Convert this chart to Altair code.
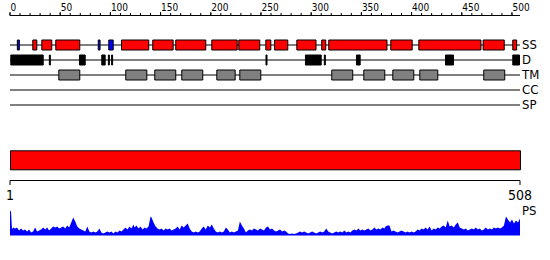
import altair as alt
import pandas as pd

FONT = "Liberation Sans Narrow, DejaVu Sans Condensed, Liberation Sans, sans-serif"

tracks = ["SS", "D", "TM", "CC", "SP"]
seq_len = 508
axis_ticks = list(range(0, 501, 10))

# Secondary structure (H = helix, red; E = strand, blue)
ss_start = [7.3, 22.7, 31.7, 45.6, 87.9, 98.4, 111.1, 142.2, 165.1, 201.0, 227.9, 254.8,
            263.5, 285.7, 310.5, 317.5, 379.3, 407.2, 471.3, 500.8]
ss_end = [9.3, 26.7, 41.6, 69.5, 89.7, 102.8, 138.2, 162.5, 195.0, 226.3, 248.8, 259.8,
          276.7, 304.8, 314.5, 375.5, 400.6, 469.1, 492.3, 504.7]
ss_kind = ["E", "H", "H", "H", "E", "E", "H", "H", "H", "H", "H", "H",
           "H", "H", "H", "H", "H", "H", "H", "H"]

# Disorder
d_start = [0.8, 39.2, 69.2, 91.4, 98.0, 101.2, 255.0, 294.3, 313.1, 345.1, 433.8, 500.8]
d_end = [33.1, 40.2, 74.9, 94.8, 99.0, 102.2, 256.0, 310.0, 314.1, 348.8, 441.7, 507.5]

# Transmembrane
tm_start = [48.6, 115.3, 144.2, 171.1, 206.0, 228.9, 320.5, 352.4, 381.3, 408.2, 471.9]
tm_end = [69.5, 136.3, 165.1, 192.0, 224.3, 249.8, 341.4, 373.3, 402.2, 426.1, 492.8]

# Profile (PS)
ps_pos = [0, 1, 2, 3, 5, 7, 9, 11, 13, 15, 17, 19, 21, 23, 25, 27, 29, 31, 33, 35, 37, 39,
          41, 43, 45, 47, 49, 51, 53, 55, 57, 59, 61, 63, 65, 67, 69, 71, 73, 75, 77, 79,
          81, 83, 85, 87, 89, 91, 93, 95, 97, 99, 101, 103, 105, 107, 109, 111, 113, 115,
          117, 119, 121, 123, 124, 126, 128, 130, 132, 134, 136, 138, 140, 141, 143, 145,
          147, 149, 151, 153, 155, 157, 159, 161, 163, 165, 167, 169, 171, 173, 175, 177,
          179, 181, 183, 185, 187, 189, 191, 193, 195, 197, 199, 201, 203, 205, 207, 209,
          211, 213, 215, 217, 219, 221, 223, 225, 227, 229, 231, 233, 235, 237, 239, 241,
          243, 245, 247, 249, 251, 253, 255, 257, 259, 261, 263, 265, 267, 269, 271, 273,
          275, 277, 279, 281, 283, 285, 287, 289, 291, 293, 295, 297, 299, 301, 303, 305,
          307, 309, 311, 313, 315, 317, 319, 321, 323, 325, 327, 329, 331, 333, 335, 337,
          339, 341, 343, 345, 347, 349, 351, 353, 355, 357, 359, 361, 363, 365, 367, 369,
          371, 373, 374, 376, 378, 380, 382, 384, 386, 388, 390, 392, 394, 396, 398, 400,
          402, 404, 406, 408, 410, 412, 414, 416, 418, 420, 422, 424, 426, 428, 430, 432,
          434, 436, 438, 440, 442, 444, 446, 448, 450, 452, 454, 456, 458, 460, 462, 464,
          466, 468, 470, 472, 474, 476, 478, 480, 482, 484, 486, 488, 490, 492, 494, 496,
          498, 500, 502, 504, 506, 508]
ps_val = [25, 24, 6, 8, 7, 8, 5, 7, 5, 6, 4, 6, 3, 4, 8, 4, 5, 6, 8, 6, 8, 5,
          7, 9, 8, 9, 7, 8, 9, 7, 10, 8, 13, 18, 14, 9, 7, 6, 5, 4, 9, 4,
          3, 4, 3, 4, 7, 3, 2, 3, 4, 3, 4, 2, 4, 3, 5, 4, 6, 8,
          6, 9, 7, 11, 8, 10, 7, 9, 6, 8, 7, 9, 19, 18, 13, 9,
          7, 6, 7, 5, 7, 6, 7, 5, 6, 7, 9, 6, 10, 8, 10, 12,
          7, 4, 3, 4, 3, 4, 7, 9, 6, 10, 8, 11, 7, 4, 3, 4,
          3, 4, 8, 6, 3, 4, 3, 4, 5, 14, 10, 7, 3, 5, 6, 5,
          7, 6, 5, 7, 6, 5, 8, 9, 6, 7, 5, 4, 5, 6, 4, 5,
          4, 2, 1.5, 2, 1.5, 2, 3, 4, 3, 4, 3, 2, 3, 4, 3, 2,
          3, 4, 3, 4, 7, 4, 3, 2, 3, 4, 3, 4, 3, 5, 3, 4,
          3, 5, 6, 5, 7, 5, 6, 5, 6, 7, 5, 6, 8, 6, 7, 6,
          8, 7, 9, 10, 10, 4, 5, 4, 3, 4, 5, 4, 3, 4, 3, 4,
          3, 4, 6, 5, 7, 6, 8, 6, 9, 5, 7, 6, 8, 7, 9, 10,
          8, 15, 9, 10, 8, 11, 13, 8, 7, 6, 7, 5, 6, 7, 6, 8,
          6, 7, 5, 6, 8, 6, 7, 6, 8, 7, 8, 7, 8, 10, 19, 16,
          13, 16, 12, 15, 13, 17]

ruler_pos = [0, 508]
ruler_text = ["1", "508"]

# ---- data frames ----
tracks_df = pd.DataFrame({"track": tracks, "start": [0] * len(tracks), "end": [seq_len] * len(tracks)})
feat_df = pd.concat([
    pd.DataFrame({"track": "SS", "start": ss_start, "end": ss_end, "kind": ss_kind}),
    pd.DataFrame({"track": "D", "start": d_start, "end": d_end, "kind": "D"}),
    pd.DataFrame({"track": "TM", "start": tm_start, "end": tm_end, "kind": "TM"}),
], ignore_index=True)
region_df = pd.DataFrame({"start": [0.5], "end": [seq_len + 0.5]})
ruler_df = pd.DataFrame({"pos": ruler_pos, "text": ruler_text})
line_df = pd.DataFrame({"start": [0], "end": [seq_len]})
ticks_df = pd.DataFrame({"v": axis_ticks})
ps_df = pd.DataFrame({"pos": ps_pos, "score": ps_val})
ps_label_df = pd.DataFrame({"pos": [seq_len], "text": ["PS"]})

x_sc = alt.Scale(domain=[0, seq_len], range=[10, 520], nice=False, zero=False)
y_tr = alt.Scale(type="point", domain=tracks, range=[45, 105], padding=0)

# ---- top ruler (axis) ----
top_line = alt.Chart(line_df).mark_rule(color="black", strokeWidth=1).encode(
    x=alt.X("start:Q", scale=x_sc, axis=None),
    x2="end:Q",
    y=alt.value(15.5),
)
minor_ticks = alt.Chart(ticks_df).mark_rule(color="black", strokeWidth=1).encode(
    x=alt.X("v:Q", scale=x_sc, axis=None),
    y=alt.value(13),
    y2=alt.value(15.5),
)
major = alt.Chart(ticks_df).transform_filter("datum.v % 50 === 0")
major_ticks = major.mark_rule(color="black", strokeWidth=1).encode(
    x=alt.X("v:Q", scale=x_sc, axis=None),
    y=alt.value(12),
    y2=alt.value(15.5),
)
major_labels = major.mark_text(
    align="left", baseline="alphabetic", font=FONT, fontSize=10, color="black", dx=0.5
).encode(
    x=alt.X("v:Q", scale=x_sc, axis=None),
    y=alt.value(11),
    text="v:Q",
)

lines = alt.Chart(tracks_df).mark_rule(color="black", strokeWidth=1).encode(
    x=alt.X("start:Q", scale=x_sc, axis=None),
    x2="end:Q",
    y=alt.Y("track:N", scale=y_tr, axis=None),
)

labels = alt.Chart(tracks_df).mark_text(
    align="left", baseline="middle", dx=2, font=FONT, fontSize=13, color="black"
).encode(
    x=alt.X("end:Q", scale=x_sc, axis=None),
    y=alt.Y("track:N", scale=y_tr, axis=None),
    text="track:N",
)

feats = alt.Chart(feat_df).mark_bar(size=10, stroke="black", strokeWidth=1).encode(
    x=alt.X("start:Q", scale=x_sc, axis=None),
    x2="end:Q",
    y=alt.Y("track:N", scale=y_tr, axis=None),
    color=alt.Color("kind:N", scale=alt.Scale(domain=["H", "E", "D", "TM"],
                                              range=["#ff0000", "#0000ff", "#000000", "#808080"]),
                    legend=None),
)

region = alt.Chart(region_df).mark_rect(color="#ff0000", stroke="black", strokeWidth=1).encode(
    x=alt.X("start:Q", scale=x_sc, axis=None),
    x2="end:Q",
    y=alt.value(150.8),
    y2=alt.value(169.8),
)

ruler_line = alt.Chart(line_df).mark_rule(color="black", strokeWidth=1).encode(
    x=alt.X("start:Q", scale=x_sc, axis=None),
    x2="end:Q",
    y=alt.value(180.5),
)

ruler_ticks = alt.Chart(ruler_df).mark_rule(color="black", strokeWidth=1).encode(
    x=alt.X("pos:Q", scale=x_sc, axis=None),
    y=alt.value(180.5),
    y2=alt.value(185),
)

ruler_labels = alt.Chart(ruler_df).mark_text(
    align="center", baseline="alphabetic", font=FONT, fontSize=14, color="black"
).encode(
    x=alt.X("pos:Q", scale=x_sc, axis=None),
    y=alt.value(200),
    text="text:N",
)

profile = alt.Chart(ps_df).mark_area(color="#0000ff", interpolate="linear").encode(
    x=alt.X("pos:Q", scale=x_sc, axis=None),
    y=alt.Y("score:Q", scale=alt.Scale(domain=[0, 25], range=[235.5, 210.5]), axis=None),
)

ps_label = alt.Chart(ps_label_df).mark_text(
    align="left", baseline="middle", dx=2, font=FONT, fontSize=13, color="black"
).encode(
    x=alt.X("pos:Q", scale=x_sc, axis=None),
    y=alt.value(211),
    text="text:N",
)

chart = alt.layer(
    top_line, minor_ticks, major_ticks, major_labels,
    lines, feats, labels, region, ruler_line, ruler_ticks, ruler_labels, profile, ps_label
).resolve_scale(y="independent").properties(
    width=550, height=260, padding=0, autosize="none", background="white"
).configure_view(stroke=None)

chart.save("out.html", embed_options={"renderer": "svg", "actions": False})
